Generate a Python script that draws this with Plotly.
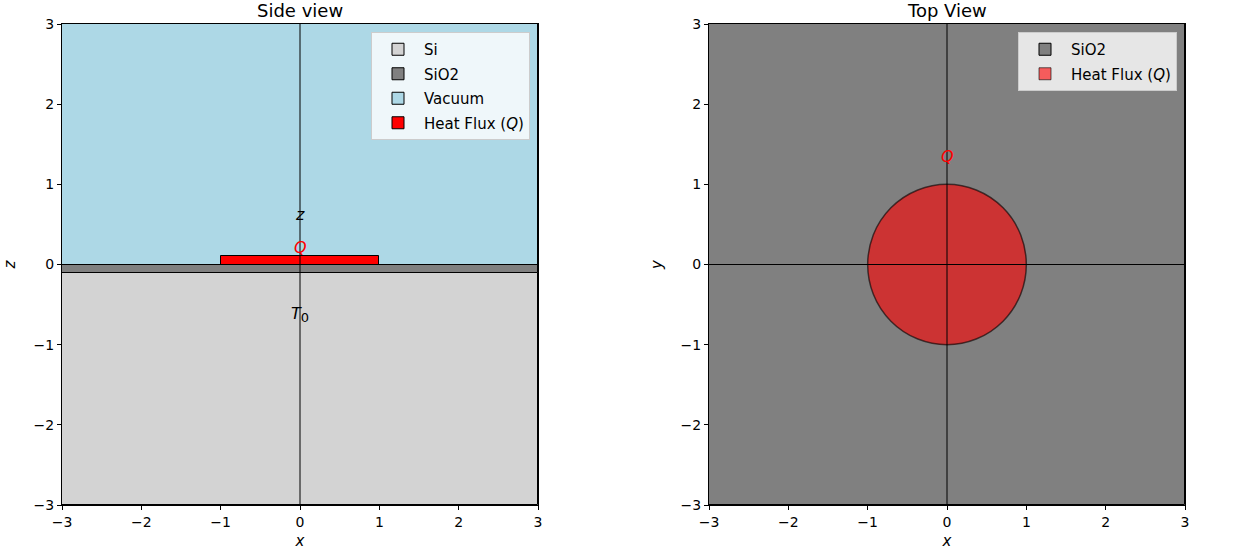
import numpy as np
import plotly.graph_objects as go

# ---------------- data ----------------
side_names = ["Si", "SiO2", "Vacuum", "Heat Flux (<i>Q</i>)"]
side_x0 = [-3.0, -3.0, -3.0, -1.0]
side_x1 = [3.0, 3.0, 3.0, 1.0]
side_z0 = [-3.0, -0.1, 0.0, 0.0]
side_z1 = [-0.1, 0.0, 3.0, 0.1]
side_colors = ["#d3d3d3", "#808080", "#add8e6", "#ff0000"]

top_bg_name = "SiO2"
top_bg_x = [-3.0, 3.0]
top_bg_y = [-3.0, 3.0]
top_bg_color = "#808080"
flux_name = "Heat Flux (<i>Q</i>)"
flux_radius = 1.0
flux_color = "rgba(255,0,0,0.6)"
flux_edge = "rgba(0,0,0,0.6)"

tick_vals = [-3, -2, -1, 0, 1, 2, 3]
axis_range = [-3, 3]

side_labels = [("<i>z</i>", 0.0, 0.62, "black", 16),
               ("<i>Q</i>", 0.0, 0.21, "red", 16),
               ("<i>T</i><sub><span style='font-size:13px'>0</span></sub>", 0.0, -0.62, "black", 16),
               ("<i>r</i>", 3.57, 0.0, "black", 17)]
top_labels = [("<i>Q</i>", 0.0, 1.35, "red", 16),
              ("<i>r</i>", 3.57, 0.0, "black", 17)]

FONT = "DejaVu Sans"
W, H = 1242, 556


def fx(px):
    return px / W


def fy(py):
    return 1 - py / H


fig = go.Figure()

# side view layers
for i, (n, x0, x1, z0, z1, c) in enumerate(zip(side_names, side_x0, side_x1, side_z0, side_z1, side_colors)):
    fig.add_trace(go.Bar(
        x=[(x0 + x1) / 2], y=[z1 - z0], base=[z0], width=[x1 - x0],
        name=n, legendgroup="s%d" % i,
        marker=dict(color=c, line=dict(color="black", width=1)),
        xaxis="x", yaxis="y", legend="legend", hoverinfo="skip"))

# top view background
fig.add_trace(go.Bar(
    x=[(top_bg_x[0] + top_bg_x[1]) / 2], y=[top_bg_y[1] - top_bg_y[0]], base=[top_bg_y[0]],
    width=[top_bg_x[1] - top_bg_x[0]], name=top_bg_name, legendgroup="t0",
    marker=dict(color=top_bg_color, line=dict(color="black", width=1)),
    xaxis="x2", yaxis="y2", legend="legend2", hoverinfo="skip"))
# legend entry for heat-flux disc (disc itself drawn as a shape)
fig.add_trace(go.Bar(
    x=[None], y=[None], name=flux_name, legendgroup="t1",
    marker=dict(color=flux_color, line=dict(color=flux_edge, width=1)),
    xaxis="x2", yaxis="y2", legend="legend2", hoverinfo="skip"))

shapes = []
shapes.append(dict(type="circle", xref="x2", yref="y2",
                   x0=-flux_radius, x1=flux_radius, y0=-flux_radius, y1=flux_radius,
                   fillcolor=flux_color, line=dict(color=flux_edge, width=1.5), layer="above"))
for xr, yr in [("x", "y"), ("x2", "y2")]:
    shapes.append(dict(type="line", xref=xr, yref=yr + " domain", x0=0, x1=0, y0=0, y1=1,
                       line=dict(color="black", width=1), layer="above"))
    shapes.append(dict(type="line", xref=xr + " domain", yref=yr, x0=0, x1=1, y0=0, y1=0,
                       line=dict(color="black", width=1), layer="above"))

annotations = []
for t, x, y, c, s in side_labels:
    annotations.append(dict(text=t, x=x, y=y, xref="x", yref="y", showarrow=False,
                            font=dict(family=FONT, size=s, color=c)))
for t, x, y, c, s in top_labels:
    annotations.append(dict(text=t, x=x, y=y, xref="x2", yref="y2", showarrow=False,
                            font=dict(family=FONT, size=s, color=c)))
annotations.append(dict(text="Side view", x=0.5, y=1, xref="x domain", yref="y domain",
                        yanchor="bottom", yshift=1, showarrow=False,
                        font=dict(family=FONT, size=18, color="black")))
annotations.append(dict(text="Top View", x=0.5, y=1, xref="x2 domain", yref="y2 domain",
                        yanchor="bottom", yshift=1, showarrow=False,
                        font=dict(family=FONT, size=18, color="black")))

ydom = [fy(505), fy(24)]
axcommon = dict(range=axis_range, tickvals=tick_vals, ticks="outside", ticklen=4,
                tickcolor="black", showline=True, mirror=True, linecolor="black",
                linewidth=1, showgrid=False, zeroline=False, automargin=False,
                tickfont=dict(family=FONT, size=14, color="black"))

legcommon = dict(xanchor="right", yanchor="top",
                 bgcolor="rgba(255,255,255,0.8)", bordercolor="#cccccc", borderwidth=1,
                 font=dict(family=FONT, size=15, color="black"), tracegroupgap=2,
                 itemwidth=42)

fig.update_layout(
    width=W, height=H, margin=dict(l=0, r=0, t=0, b=0),
    paper_bgcolor="white", plot_bgcolor="white",
    barmode="overlay", bargap=0,
    font=dict(family=FONT, size=13, color="black"),
    xaxis=dict(domain=[fx(62), fx(538)], anchor="y",
               title=dict(text="<i>x</i>", standoff=6, font=dict(family=FONT, size=15)), **axcommon),
    yaxis=dict(domain=ydom, anchor="x",
               title=dict(text="<i>z</i>", standoff=14, font=dict(family=FONT, size=15)), **axcommon),
    xaxis2=dict(domain=[fx(709), fx(1185)], anchor="y2",
                title=dict(text="<i>x</i>", standoff=6, font=dict(family=FONT, size=15)), **axcommon),
    yaxis2=dict(domain=ydom, anchor="x2",
                title=dict(text="<i>y</i>", standoff=14, font=dict(family=FONT, size=15)), **axcommon),
    legend=dict(x=fx(530), y=fy(32), **legcommon),
    legend2=dict(x=fx(1177), y=fy(32), **legcommon),
    shapes=shapes, annotations=annotations, showlegend=True,
)

fig.write_html("out.html", config={"displayModeBar": False},
               post_script="document.body.style.margin='0px';document.body.style.overflow='hidden';")
